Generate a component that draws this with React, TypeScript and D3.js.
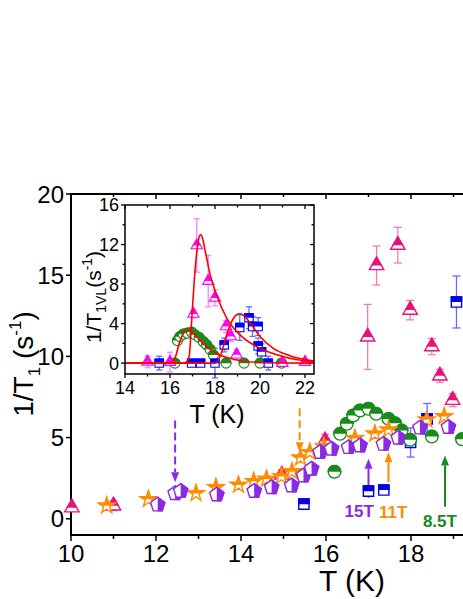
import React from "react";
import * as d3 from "d3";

// ---- main panel: 1/T1 vs T ----
const xTicks = [10, 12, 14, 16, 18, 20];
const xMinor = [11, 13, 15, 17, 19];
const yTicks = [0, 5, 10, 15, 20];

// pink triangles (half filled)
const triT = [10.02, 11.0, 14.96, 15.98, 16.98, 17.19, 17.69, 17.98, 18.49, 18.68, 18.98];
const triV = [0.68, 0.8, 2.7, 4.8, 11.2, 15.6, 16.85, 12.85, 10.6, 8.8, 7.3];
const triErr = [0.1, 0.3, 0.3, 0.4, 2.0, 1.2, 1.1, 0.6, 0.5, 0.4, 0.4];

const sqT = [15.48, 17.0, 17.36, 17.99, 18.38, 19.07];
const sqV = [0.9, 1.7, 1.77, 4.7, 6.15, 13.35];
const sqErr = [0.2, 0.2, 0.2, 0.9, 0.95, 1.6];

// 8.5T green circles
const cirT = [16.2, 16.33, 16.49, 16.64, 16.8, 17.0, 17.18, 17.47, 17.62, 17.78, 17.98, 18.49, 19.2];
const cirV = [2.9, 5.23, 5.85, 6.36, 6.67, 6.77, 6.46, 6.15, 5.88, 5.43, 4.86, 5.06, 4.9];

// 11T orange stars
const starT = [10.84, 11.82, 12.94, 13.41, 13.94, 14.3, 14.6, 14.95, 15.2, 15.4, 15.62, 15.95, 16.68, 17.15, 17.47, 18.37, 18.78];
const starV = [0.8, 1.2, 1.56, 1.93, 2.08, 2.3, 2.45, 2.6, 2.9, 3.75, 4.1, 4.45, 4.95, 5.23, 5.48, 6.1, 6.3];

// 15T purple pentagons
const pentT = [12.04, 12.45, 12.58, 13.43, 14.31, 14.72, 15.19, 15.47, 15.66, 15.86, 16.13, 16.53, 16.8, 17.35, 17.7, 18.21, 18.88];
const pentV = [0.86, 1.56, 1.7, 1.48, 1.7, 1.93, 2.04, 2.65, 3.07, 4.1, 4.3, 4.4, 4.5, 4.6, 4.98, 5.6, 5.64];

// arrows: T, from, to (data units)
const arrows = [
  { t: 12.45, from: 6.05, to: 2.25, color: "#8A2BE2", dashed: true },
  { t: 15.38, from: 6.8, to: 4.1, color: "#FF8C00", dashed: true },
  { t: 17.0, from: 1.3, to: 3.7, color: "#8A2BE2", dashed: false },
  { t: 17.47, from: 2.24, to: 4.1, color: "#FF8C00", dashed: false },
  { t: 18.8, from: 0.74, to: 3.9, color: "#1A8A1A", dashed: false },
];
const fieldLabels = [
  { t: 16.78, v: 0.1, text: "15T", color: "#8A2BE2" },
  { t: 17.58, v: 0.05, text: "11T", color: "#FF8C00" },
  { t: 18.68, v: -0.5, text: "8.5T", color: "#1A8A1A" },
];

// ---- inset: 1/T1VL ----
const ixTicks = [14, 16, 18, 20, 22];
const ixMinor = [15, 17, 19, 21];
const iyTicks = [0, 4, 8, 12, 16];
const iyMinor = [2, 6, 10, 14];

const iTriT = [15.0, 16.0, 17.04, 17.19, 17.7, 18.0, 18.49, 18.7, 18.96, 21.0, 22.0];
const iTriV = [0.13, 0.1, 4.97, 11.9, 8.3, 6.6, 3.7, 2.7, 0.85, 0.0, 0.1];
const iTriErr = [0.6, 1.0, 0.4, 2.7, 2.6, 0.8, 0.6, 0.5, 0.5, 0.3, 0.3];

const iSqT = [15.52, 16.96, 17.36, 18.0, 18.41, 19.1, 19.51, 19.67, 19.92, 19.92, 20.07, 20.37];
const iSqV = [0.0, 0.0, 0.0, 0.0, 1.84, 3.6, 4.6, 3.7, 3.7, 1.73, 1.15, 0.0];
const iSqErr = [0.7, 0.3, 0.3, 1.5, 0.7, 1.3, 1.1, 1.0, 0.9, 0.8, 0.8, 0.7];

const iCirT = [16.22, 16.33, 16.44, 16.59, 16.77, 16.96, 17.11, 17.3, 17.48, 17.63, 17.78, 17.93, 18.49, 19.29, 20.0, 20.96];
const iCirV = [0.0, 2.28, 2.68, 2.93, 3.03, 3.13, 2.86, 2.58, 2.17, 1.84, 1.4, 0.82, 0.0, 0.0, 0.0, 0.0];

// fitted curves
const fitPink: [number, number][] = [[14, 0], [16.6, 0], [16.8, 0.3], [16.86, 0.8], [16.96, 4.2], [17.11, 9.3], [17.26, 12.4], [17.36, 13.0], [17.45, 12.6], [17.56, 11.4], [17.78, 9.0], [18.07, 6.9], [18.52, 4.55], [19.11, 2.86], [20.0, 1.5], [21.04, 0.65], [22.4, 0.13]];
const fitGreen: [number, number][] = [[14, 0], [15.9, 0], [16.05, 0.1], [16.22, 0.5], [16.44, 2.2], [16.59, 3.0], [16.77, 3.4], [16.96, 3.2], [17.26, 2.5], [17.63, 1.66], [18.07, 0.98], [18.81, 0.4], [20.0, 0.07], [22.4, 0]];
const fitBlue: [number, number][] = [[14, 0], [18.0, 0], [18.15, 0.3], [18.3, 1.15], [18.52, 2.86], [18.74, 4.2], [18.96, 4.9], [19.11, 5.0], [19.33, 4.7], [19.56, 4.05], [20.0, 2.7], [20.59, 1.5], [21.33, 0.75], [22.4, 0.2]];

const FONT = "Arial, 'Liberation Sans', sans-serif";
const VIEW_W = 463;

const x = d3.scaleLinear().domain([10, 20]).range([71, 496]);
const y = d3.scaleLinear().domain([-1, 20]).range([535, 194]);
const xi = d3.scaleLinear().domain([14, 22.4]).range([125, 314]);
const yi = d3.scaleLinear().domain([-1.1, 16]).range([374, 205]);

function pentagonPath(r: number) {
  const pts = d3.range(5).map((k) => {
    const a = -Math.PI / 2 + (k * 2 * Math.PI) / 5;
    return [r * Math.cos(a), r * Math.sin(a)];
  });
  return "M" + pts.map((p) => p.join(",")).join("L") + "Z";
}

const sym = (type: d3.SymbolType, size: number) => d3.symbol(type, size)() as string;

const triPath = sym(d3.symbolTriangle, 90);
const sqPath = sym(d3.symbolSquare, 105);
const cirPath = sym(d3.symbolCircle, 125);
const starPath = sym(d3.symbolStar, 80);
const pentPath = pentagonPath(7.5);

const iTriPath = sym(d3.symbolTriangle, 55);
const iSqPath = sym(d3.symbolSquare, 70);
const iCirPath = sym(d3.symbolCircle, 80);

function Marker({ d, cx, cy, color, clip, sw = 1.4 }: any) {
  return (
    <g transform={`translate(${cx},${cy})`}>
      <path d={d} fill="#fff" stroke={color} strokeWidth={sw} />
      <path d={d} fill={color} stroke={color} strokeWidth={sw} clipPath={`url(#${clip})`} />
    </g>
  );
}

function ErrBar({ cx, y1, y2, color, cap }: any) {
  return (
    <g stroke={color} strokeWidth={1.3}>
      <line x1={cx} x2={cx} y1={y1} y2={y2} />
      <line x1={cx - cap} x2={cx + cap} y1={y1} y2={y1} />
      <line x1={cx - cap} x2={cx + cap} y1={y2} y2={y2} />
    </g>
  );
}

const lineGen = (sx: any, sy: any) =>
  d3
    .line<[number, number]>()
    .x((d) => sx(d[0]))
    .y((d) => sy(d[1]))
    .curve(d3.curveMonotoneX);

export default function App() {
  const PINK = "#E8127C";
  const PINK_E = "#F57AB5";
  const BLUE = "#0000E6";
  const BLUE_E = "#6B6BFF";
  const GREEN = "#1A8A1A";
  const ORANGE = "#FF8C00";
  const PURPLE = "#8A2BE2";
  const MAG = "#FF00FF";
  const MAG_E = "#FF80FF";

  const il = lineGen(xi, yi);

  return (
    <svg
      width={463}
      height={599}
      style={{ position: "absolute", left: 0, top: 0, background: "#fff" }}
      fontFamily={FONT}
    >
      <defs>
        <clipPath id="topHalf">
          <rect x={-50} y={-50} width={100} height={50} />
        </clipPath>
        <clipPath id="rightHalf">
          <rect x={0} y={-50} width={50} height={100} />
        </clipPath>
      </defs>

      {/* main frame */}
      <g stroke="#000" strokeWidth={2} fill="none">
        <line x1={71} x2={x(20)} y1={194} y2={194} />
        <line x1={71} x2={x(20)} y1={535} y2={535} />
        <line x1={71} x2={71} y1={193} y2={536} />
      </g>
      <g stroke="#000" strokeWidth={1.5}>
        {xTicks.map((t) => (
          <g key={"xt" + t}>
            <line x1={x(t)} x2={x(t)} y1={535} y2={541} />
            <line x1={x(t)} x2={x(t)} y1={194} y2={199} />
          </g>
        ))}
        {xMinor.map((t) => (
          <g key={"xm" + t}>
            <line x1={x(t)} x2={x(t)} y1={535} y2={539} />
            <line x1={x(t)} x2={x(t)} y1={194} y2={197} />
          </g>
        ))}
        {yTicks.map((t) => (
          <line key={"yt" + t} x1={66} x2={71} y1={y(t)} y2={y(t)} />
        ))}
      </g>
      <g fontSize={24} fill="#000">
        {xTicks
          .filter((t) => x(t) < VIEW_W)
          .map((t) => (
            <text key={"xl" + t} x={x(t)} y={562} textAnchor="middle">
              {t}
            </text>
          ))}
        {yTicks.map((t) => (
          <text key={"yl" + t} x={64} y={y(t)} dy="0.36em" textAnchor="end">
            {t}
          </text>
        ))}
      </g>
      <text x={352} y={591} fontSize={30} textAnchor="middle">
        T (K)
      </text>
      <text transform="translate(33,364) rotate(-90)" fontSize={28} textAnchor="middle">
        1/T
        <tspan fontSize={17} dy={7}>1</tspan>
        <tspan dy={-7}> (s</tspan>
        <tspan fontSize={17} dy={-12}>-1</tspan>
        <tspan dy={12}>)</tspan>
      </text>

      {/* arrows */}
      {arrows.map((a, i) => {
        const cx = x(a.t);
        const y1 = y(a.from);
        const y2 = y(a.to);
        const dir = y2 > y1 ? 1 : -1;
        const base = y2 - dir * 10;
        return (
          <g key={"ar" + i}>
            <line
              x1={cx}
              x2={cx}
              y1={y1}
              y2={base}
              stroke={a.color}
              strokeWidth={2}
              strokeDasharray={a.dashed ? "8,4" : undefined}
            />
            <path d={`M${cx},${y2}L${cx - 4},${base}L${cx + 4},${base}Z`} fill={a.color} />
          </g>
        );
      })}
      {fieldLabels.map((l) => (
        <text
          key={l.text}
          x={x(l.t)}
          y={y(l.v)}
          fill={l.color}
          fontSize={17}
          fontWeight="bold"
          textAnchor="middle"
        >
          {l.text}
        </text>
      ))}

      {/* main data */}
      {triT.map((t, i) => (
        <ErrBar key={"te" + i} cx={x(t)} y1={y(triV[i] + triErr[i])} y2={y(triV[i] - triErr[i])} color={PINK_E} cap={4} />
      ))}
      {sqT.map((t, i) => (
        <ErrBar key={"se" + i} cx={x(t)} y1={y(sqV[i] + sqErr[i])} y2={y(sqV[i] - sqErr[i])} color={BLUE_E} cap={4} />
      ))}
      {triT.map((t, i) => (
        <Marker key={"tr" + i} d={triPath} cx={x(t)} cy={y(triV[i])} color={PINK} clip="topHalf" />
      ))}
      {sqT.map((t, i) => (
        <Marker key={"sq" + i} d={sqPath} cx={x(t)} cy={y(sqV[i])} color={BLUE} clip="topHalf" />
      ))}
      {cirT.map((t, i) => (
        <Marker key={"ci" + i} d={cirPath} cx={x(t)} cy={y(cirV[i])} color={GREEN} clip="topHalf" />
      ))}
      {starT.map((t, i) => (
        <Marker key={"st" + i} d={starPath} cx={x(t)} cy={y(starV[i])} color={ORANGE} clip="topHalf" />
      ))}
      {pentT.map((t, i) => (
        <Marker key={"pe" + i} d={pentPath} cx={x(t)} cy={y(pentV[i])} color={PURPLE} clip="rightHalf" />
      ))}

      {/* inset */}
      <rect x={125} y={205} width={189} height={169} fill="#fff" />
      <g stroke="#000" strokeWidth={1.3}>
        {ixTicks.map((t) => (
          <g key={"ixt" + t}>
            <line x1={xi(t)} x2={xi(t)} y1={374} y2={378} />
            <line x1={xi(t)} x2={xi(t)} y1={205} y2={209} />
          </g>
        ))}
        {ixMinor.map((t) => (
          <g key={"ixm" + t}>
            <line x1={xi(t)} x2={xi(t)} y1={374} y2={376.5} />
            <line x1={xi(t)} x2={xi(t)} y1={205} y2={207.5} />
          </g>
        ))}
        {iyTicks.map((t) => (
          <g key={"iyt" + t}>
            <line x1={121} x2={125} y1={yi(t)} y2={yi(t)} />
            <line x1={310} x2={314} y1={yi(t)} y2={yi(t)} />
          </g>
        ))}
        {iyMinor.map((t) => (
          <g key={"iym" + t}>
            <line x1={122.5} x2={125} y1={yi(t)} y2={yi(t)} />
            <line x1={311.5} x2={314} y1={yi(t)} y2={yi(t)} />
          </g>
        ))}
      </g>
      <g fontSize={18} fill="#000">
        {ixTicks.map((t) => (
          <text key={"ixl" + t} x={xi(t)} y={394} textAnchor="middle">
            {t}
          </text>
        ))}
        {iyTicks.map((t) => (
          <text key={"iyl" + t} x={119} y={yi(t)} dy="0.36em" textAnchor="end">
            {t}
          </text>
        ))}
      </g>
      <text x={217} y={423} fontSize={25} textAnchor="middle">
        T (K)
      </text>
      <text transform="translate(101,297) rotate(-90)" fontSize={21} textAnchor="middle">
        1/T
        <tspan fontSize={14} dy={5}>1VL</tspan>
        <tspan dy={-5}>(s</tspan>
        <tspan fontSize={14} dy={-9}>-1</tspan>
        <tspan dy={9}>)</tspan>
      </text>

      {iTriT.map((t, i) => (
        <ErrBar key={"ite" + i} cx={xi(t)} y1={yi(iTriV[i] + iTriErr[i])} y2={yi(iTriV[i] - iTriErr[i])} color={MAG_E} cap={3} />
      ))}
      {iSqT.map((t, i) => (
        <ErrBar key={"ise" + i} cx={xi(t)} y1={yi(iSqV[i] + iSqErr[i])} y2={yi(iSqV[i] - iSqErr[i])} color={BLUE_E} cap={3} />
      ))}
      {iCirT.map((t, i) => (
        <Marker key={"ici" + i} d={iCirPath} cx={xi(t)} cy={yi(iCirV[i])} color={GREEN} clip="topHalf" sw={1.1} />
      ))}
      {iSqT.map((t, i) => (
        <Marker key={"isq" + i} d={iSqPath} cx={xi(t)} cy={yi(iSqV[i])} color="#0000FF" clip="topHalf" sw={1.1} />
      ))}
      {iTriT.map((t, i) => (
        <Marker key={"itr" + i} d={iTriPath} cx={xi(t)} cy={yi(iTriV[i])} color={MAG} clip="topHalf" sw={1.1} />
      ))}
      <g fill="none" stroke="#FF0000" strokeWidth={1.6}>
        <path d={il(fitPink) as string} />
        <path d={il(fitGreen) as string} />
        <path d={il(fitBlue) as string} />
      </g>
      <rect x={125} y={205} width={189} height={169} fill="none" stroke="#000" strokeWidth={1.5} />
    </svg>
  );
}
